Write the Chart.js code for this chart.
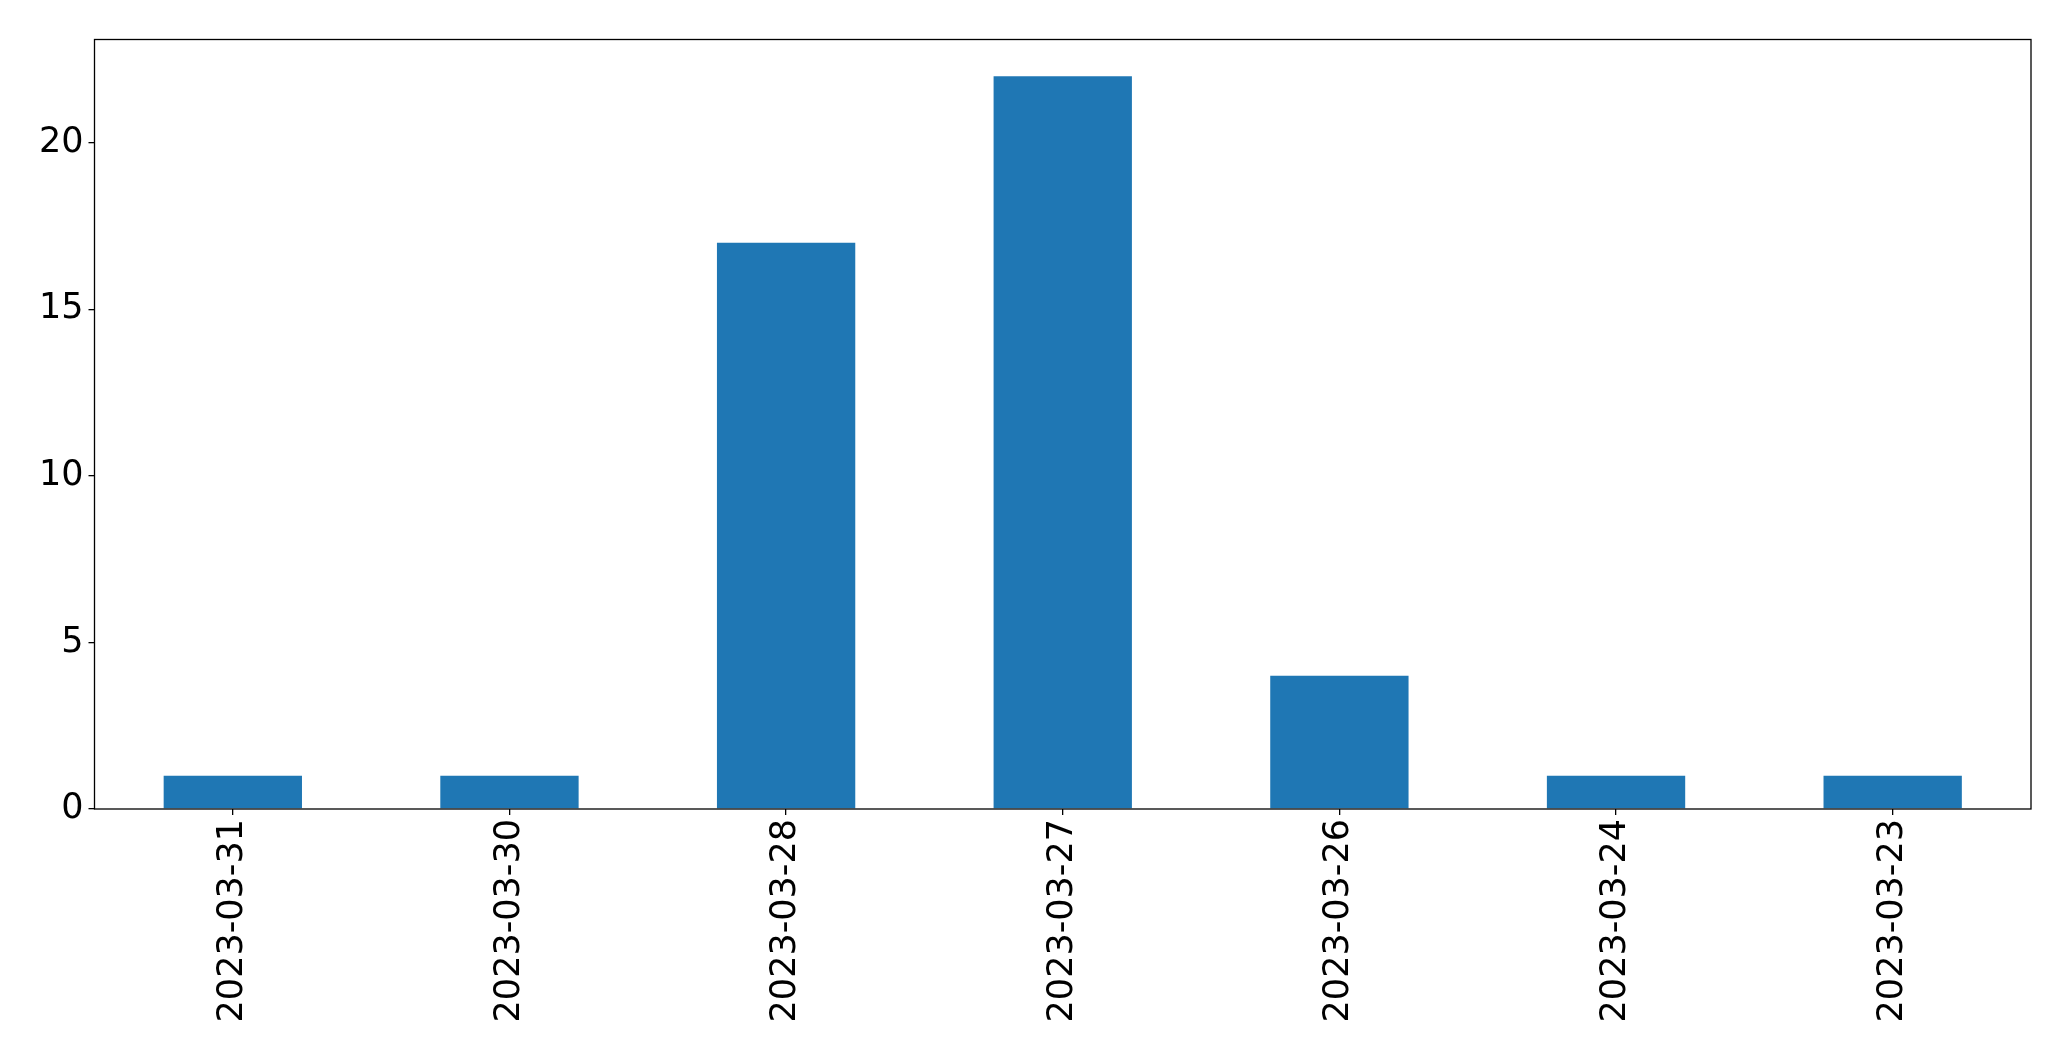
<!DOCTYPE html>
<html>
<head>
<meta charset="utf-8">
<script src="https://cdn.jsdelivr.net/npm/chart.js@4"></script>
<style>
  html, body { margin: 0; padding: 0; background: #fff; }
  #wrap { width: 2071px; height: 1061px; }
</style>
</head>
<body>
<div id="wrap"><canvas id="chart" width="2071" height="1061"></canvas></div>
<script>
// donnees
var dates = ['2023-03-31', '2023-03-30', '2023-03-28', '2023-03-27', '2023-03-26', '2023-03-24', '2023-03-23'];
var counts = [1, 1, 17, 22, 4, 1, 1];
var yTicks = [0, 5, 10, 15, 20];

// cadre autour de la zone du graphique
var frame = {
    id: 'frame',
    afterDraw: function (chart) {
        var a = chart.chartArea;
        var c = chart.ctx;
        c.save();
        c.strokeStyle = '#000';
        c.lineWidth = 1.3;
        c.strokeRect(a.left, a.top, a.right - a.left, a.bottom - a.top);
        c.restore();
    }
};

var ctx = document.getElementById('chart').getContext('2d');
var myChart = new Chart(ctx, {
    type: 'bar',
    data: {
        labels: dates,
        datasets: [{
            data: counts,
            backgroundColor: '#1f77b4',
            borderWidth: 0,
            barPercentage: 0.5,
            categoryPercentage: 1.0
        }]
    },
    options: {
        responsive: false,
        animation: false,
        layout: { padding: { left: 0, top: 39.5, right: 40, bottom: 0 } },
        plugins: { legend: { display: false }, tooltip: { enabled: false } },
        scales: {
            x: {
                offset: true,
                grid: { offset: false, drawOnChartArea: false, drawTicks: true, tickLength: 6, color: '#000', lineWidth: 1.3 },
                border: { display: false },
                ticks: {
                    minRotation: 90, maxRotation: 90, autoSkip: false,
                    padding: 4,
                    color: '#000',
                    font: { family: 'DejaVu Sans', size: 35 }
                },
                afterFit: function (axis) { axis.height = 252; }
            },
            y: {
                min: 0,
                max: 23.1,
                grid: { drawOnChartArea: false, drawTicks: true, tickLength: 6, color: '#000', lineWidth: 1.3 },
                border: { display: false },
                afterBuildTicks: function (axis) {
                    axis.ticks = yTicks.map(function (v) { return { value: v }; });
                },
                ticks: {
                    padding: 5,
                    color: '#000',
                    font: { family: 'DejaVu Sans', size: 35 }
                },
                afterFit: function (axis) { axis.width = 94.5; }
            }
        }
    },
    plugins: [frame]
});
</script>
</body>
</html>
